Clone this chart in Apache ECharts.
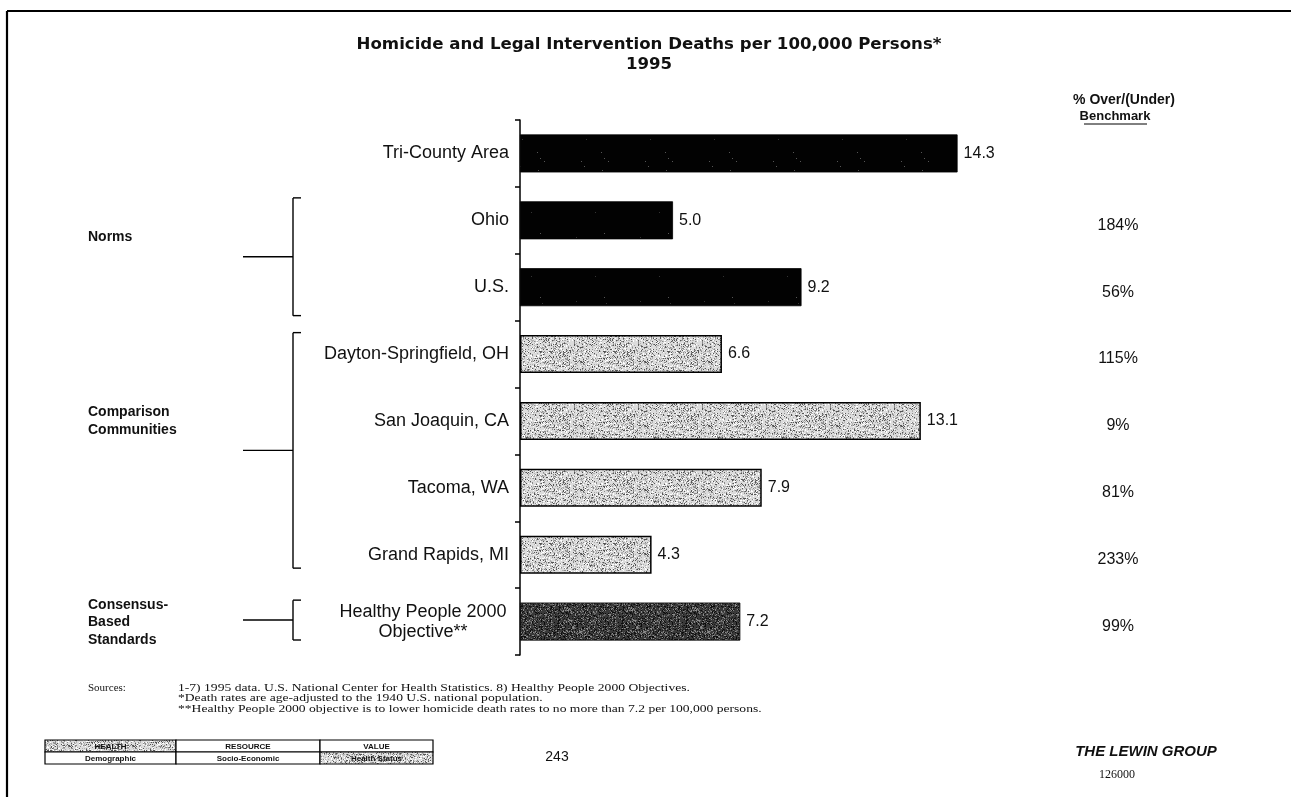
<!DOCTYPE html>
<html>
<head>
<meta charset="utf-8">
<script src="https://cdn.jsdelivr.net/npm/echarts@6/dist/echarts.min.js"></script>
<style>
  html, body { margin: 0; padding: 0; background: #fff; }
  #chart { width: 1291px; height: 797px; }
</style>
</head>
<body>
<div id="chart"></div>
<script>
// Homicide and legal intervention death rates, 1995
const categories = [
  'Tri-County Area', 'Ohio', 'U.S.', 'Dayton-Springfield, OH',
  'San Joaquin, CA', 'Tacoma, WA', 'Grand Rapids, MI',
  'Healthy People 2000\nObjective**'
];
const rates = [14.3, 5.0, 9.2, 6.6, 13.1, 7.9, 4.3, 7.2];
const overUnderBenchmark = ['', '184%', '56%', '115%', '9%', '81%', '233%', '99%'];
const barKinds = ['area', 'norm', 'norm', 'community', 'community', 'community', 'community', 'standard'];
const groupLabels = ['Norms', 'Comparison\nCommunities', 'Consensus-\nBased\nStandards'];
const groupRanges = [[1, 2], [3, 6], [7, 7]];
const sourceNotes = [
  '1-7) 1995 data. U.S. National Center for Health Statistics. 8) Healthy People 2000 Objectives.',
  '*Death rates are age-adjusted to the 1940 U.S. national population.',
  '**Healthy People 2000 objective is to lower homicide death rates to no more than 7.2 per 100,000 persons.'
];
const footerCells = [['HEALTH', 'RESOURCE', 'VALUE'], ['Demographic', 'Socio-Economic', 'Health Status']];

// Small stippled textures for the bar fills (seeded so every render is identical)
function stipple(base, specks, density, seed) {
  const size = 64;
  const c = document.createElement('canvas');
  c.width = size; c.height = size;
  const ctx = c.getContext('2d');
  ctx.fillStyle = base;
  ctx.fillRect(0, 0, size, size);
  let s = seed >>> 0;
  const rnd = () => {
    s = (s + 0x6D2B79F5) >>> 0;
    let t = s;
    t = Math.imul(t ^ (t >>> 15), t | 1);
    t ^= t + Math.imul(t ^ (t >>> 7), t | 61);
    return ((t ^ (t >>> 14)) >>> 0) / 4294967296;
  };
  const n = Math.floor(size * size * density);
  for (let i = 0; i < n; i++) {
    const x = Math.floor(rnd() * size), y = Math.floor(rnd() * size);
    ctx.fillStyle = specks[Math.floor(rnd() * specks.length)];
    ctx.fillRect(x, y, 1, 1);
  }
  return c;
}

const fills = {
  area: { image: stipple('#020202', ['#333', '#555'], 0.002, 11), repeat: 'repeat' },
  norm: { image: stipple('#020202', ['#333', '#555'], 0.002, 23), repeat: 'repeat' },
  community: { image: stipple('#dcdcdc', ['#555', '#8a8a8a', '#fff', '#b0b0b0'], 0.5, 37), repeat: 'repeat' },
  standard: { image: stipple('#3a3a3a', ['#0c0c0c', '#1c1c1c', '#6a6a6a', '#8c8c8c'], 0.6, 51), repeat: 'repeat' }
};

const chart = echarts.init(document.getElementById('chart'), null, { renderer: 'canvas' });

const GRID = { left: 520, top: 120, width: 612, height: 535 };

chart.setOption({
  animation: false,
  backgroundColor: '#fff',
  textStyle: { fontFamily: 'Liberation Sans, Arial, sans-serif' },
  grid: { left: GRID.left, top: GRID.top, width: GRID.width, height: GRID.height, containLabel: false },
  xAxis: {
    type: 'value', min: 0, max: 20, show: false
  },
  yAxis: {
    type: 'category',
    inverse: true,
    data: categories,
    axisLine: { lineStyle: { color: '#000', width: 1.5 } },
    axisTick: { show: true, length: 5, lineStyle: { color: '#000', width: 1.5 } },
    axisLabel: {
      color: '#111',
      fontSize: 18,
      margin: 11,
      formatter: (v) => {
        if (v.indexOf('\n') >= 0) {
          return v.split('\n').map(l => '{hp|' + l + '}').join('\n');
        }
        return v;
      },
      rich: {
        hp: { width: 172, align: 'center', fontSize: 18, lineHeight: 20, color: '#111' }
      }
    }
  },
  series: [{
    type: 'bar',
    barWidth: 38,
    data: rates.map((v, i) => ({
      value: v,
      itemStyle: {
        color: fills[barKinds[i]],
        borderColor: '#000',
        borderWidth: barKinds[i] === 'community' ? 1.5 : 0.8
      }
    })),
    label: {
      show: true,
      position: 'right',
      distance: 6,
      color: '#111',
      fontSize: 16,
      formatter: (p) => p.value.toFixed(1)
    }
  }]
});

// Annotations laid out around the plotted bars
const yOf = (i) => chart.convertToPixel({ yAxisIndex: 0 }, i);
const band = GRID.height / categories.length;
const g = [];
const line = (x1, y1, x2, y2, w) => g.push({
  type: 'line', shape: { x1, y1, x2, y2 }, style: { stroke: '#000', lineWidth: w || 1.4 }
});
const text = (x, y, t, font, align, extra) => g.push(Object.assign({
  type: 'text', x, y,
  style: { text: t, font, fill: '#111', align: align || 'left', verticalAlign: 'middle' }
}, extra || {}));

// page frame
line(7, 11, 1291, 11, 2.2);
line(7, 11, 7, 797, 2.2);

// titles
text(649, 45, 'Homicide and Legal Intervention Deaths per 100,000 Persons*', 'bold 16.6px DejaVu Sans, Liberation Sans', 'center');
text(649, 65, '1995', 'bold 16.6px DejaVu Sans, Liberation Sans', 'center');
text(1124, 100, '% Over/(Under)', 'bold 14px Liberation Sans, Arial', 'center');
text(1115, 116, 'Benchmark', 'bold 13px Liberation Sans, Arial', 'center');
line(1084, 124, 1147, 124, 1);

// percent over/(under) benchmark column
overUnderBenchmark.forEach((t, i) => {
  if (t) text(1118, yOf(i) + 5, t, '16px Liberation Sans, Arial', 'center');
});

// group brackets and labels
const bracketX = 293, stubL = 243;
const bracketInset = [[11, 5], [12, 20], [12, 15]];
const groupTextY = [[237], [412, 430], [605, 622, 640]];
groupRanges.forEach(([a, b], k) => {
  const top = yOf(a) - band / 2 + bracketInset[k][0];
  const bot = yOf(b) + band / 2 - bracketInset[k][1];
  const mid = (top + bot) / 2;
  line(bracketX, top, bracketX, bot);
  line(bracketX, top, bracketX + 8, top);
  line(bracketX, bot, bracketX + 8, bot);
  line(stubL, mid, bracketX, mid);
  groupLabels[k].split('\n').forEach((l, j) => {
    text(88, groupTextY[k][j], l, 'bold 14px Liberation Sans, Arial', 'left');
  });
});

// sources (set in a wide, short serif face)
text(88, 688, 'Sources:', '11px Liberation Serif, Times New Roman', 'left');
sourceNotes.forEach((s, i) => text(178, 688 + i * 10.5, s, '13.6px Liberation Serif, Times New Roman', 'left', { scaleY: 0.78 }));

// footer classification table
const tx = [45, 176, 320, 433], ty = [740, 752, 764];
footerCells.forEach((row, r) => row.forEach((c, k) => {
  const shaded = (r === 0 && k === 0) || (r === 1 && k === 2);
  g.push({
    type: 'rect',
    shape: { x: tx[k], y: ty[r], width: tx[k + 1] - tx[k], height: ty[r + 1] - ty[r] },
    style: { fill: shaded ? fills.community : '#fff', stroke: '#000', lineWidth: 1.2 }
  });
  text((tx[k] + tx[k + 1]) / 2, (ty[r] + ty[r + 1]) / 2 + 0.5, c, 'bold 8px Liberation Sans, Arial', 'center');
}));

text(557, 757, '243', '14px Liberation Sans, Arial', 'center');
text(1146, 752, 'THE LEWIN GROUP', 'italic bold 15px Liberation Sans, Arial', 'center');
text(1117, 775, '126000', '12px Liberation Serif, Times New Roman', 'center');

chart.setOption({ graphic: { elements: g } });
</script>
</body>
</html>
